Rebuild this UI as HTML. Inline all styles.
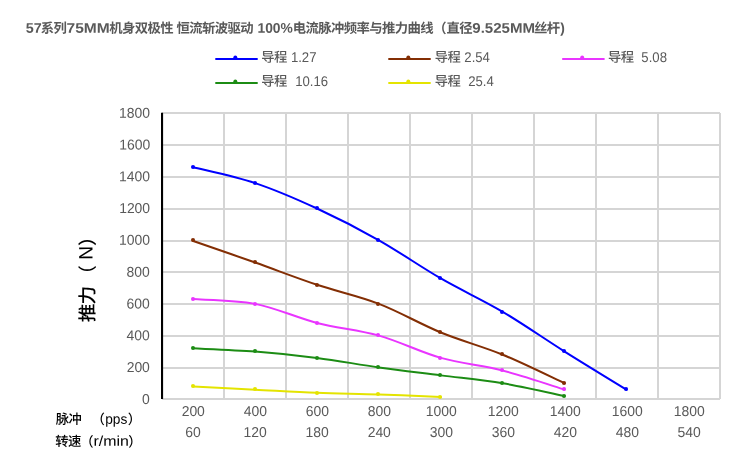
<!DOCTYPE html>
<html lang="zh-CN">
<head>
<meta charset="utf-8">
<title>57系列75MM机身双极性 推力曲线</title>
<style>
html,body{margin:0;padding:0;background:#fff;}
body{width:750px;height:468px;overflow:hidden;}
svg{display:block;}
text{font-family:"Liberation Sans","Noto Sans CJK SC",sans-serif;fill:#595959;white-space:pre;}
.c{font-weight:500;}
.tt{font-weight:bold;}
.yt,.xt{fill:#000;}
</style>
</head>
<body>
<svg width="750" height="468" viewBox="0 0 750 468" role="img" aria-label="推力曲线">
<rect width="750" height="468" fill="#fff"/>
<path d="M224,113 V399 M286,113 V399 M348,113 V399 M410,113 V399 M472,113 V399 M534,113 V399 M596,113 V399 M658,113 V399 M720,113 V399" stroke="#d5d5d5" stroke-width="2" fill="none"/>
<path d="M162,399.05 H720 M162,368.05 H720 M162,336.05 H720 M162,304.05 H720 M162,272.05 H720 M162,241.05 H720 M162,209.05 H720 M162,177.05 H720 M162,145.05 H720 M162,113.05 H720" stroke="#d5d5d5" stroke-width="1.9" fill="none"/>
<path d="M162.05,112.70 V399.00" stroke="#000" stroke-width="2.1" fill="none"/>
<path d="M193.25,167.22 C203.57,169.87 234.52,176.23 255.15,183.11 C275.78,190.00 296.42,199.00 317.05,208.53 C337.68,218.06 358.32,228.66 378.95,240.31 C399.58,251.96 420.22,266.52 440.85,278.44 C461.48,290.36 482.12,299.63 502.75,311.81 C523.38,323.99 544.02,338.55 564.65,351.53 C585.28,364.51 616.23,383.31 626.55,389.67" stroke="#0000ff" stroke-width="2" fill="none" stroke-linecap="round"/>
<circle cx="193" cy="167" r="2.05" fill="#0000ff"/>
<circle cx="255" cy="183" r="2.05" fill="#0000ff"/>
<circle cx="317" cy="208" r="2.05" fill="#0000ff"/>
<circle cx="378" cy="240" r="2.05" fill="#0000ff"/>
<circle cx="440" cy="278" r="2.05" fill="#0000ff"/>
<circle cx="502" cy="312" r="2.05" fill="#0000ff"/>
<circle cx="564" cy="351" r="2.05" fill="#0000ff"/>
<circle cx="626" cy="389" r="2.05" fill="#0000ff"/>
<path d="M193.25,241.01 C203.57,244.60 234.52,255.26 255.15,262.56 C275.78,269.86 296.42,277.92 317.05,284.80 C337.68,291.69 358.32,295.93 378.95,303.87 C399.58,311.81 420.22,324.00 440.85,332.47 C461.48,340.94 482.12,346.24 502.75,354.71 C523.38,363.18 554.33,378.54 564.65,383.31" stroke="#832e04" stroke-width="2" fill="none" stroke-linecap="round"/>
<circle cx="193" cy="240" r="2.05" fill="#832e04"/>
<circle cx="255" cy="262" r="2.05" fill="#832e04"/>
<circle cx="317" cy="285" r="2.05" fill="#832e04"/>
<circle cx="378" cy="304" r="2.05" fill="#832e04"/>
<circle cx="440" cy="332" r="2.05" fill="#832e04"/>
<circle cx="502" cy="354" r="2.05" fill="#832e04"/>
<circle cx="564" cy="383" r="2.05" fill="#832e04"/>
<path d="M193.25,299.10 C203.57,299.90 234.52,299.90 255.15,303.87 C275.78,307.84 296.42,317.63 317.05,322.93 C337.68,328.23 358.32,329.81 378.95,335.64 C399.58,341.47 420.22,352.06 440.85,357.89 C461.48,363.72 482.12,365.30 502.75,370.60 C523.38,375.90 554.33,386.49 564.65,389.67" stroke="#e935ff" stroke-width="2" fill="none" stroke-linecap="round"/>
<circle cx="193" cy="299" r="2.05" fill="#e935ff"/>
<circle cx="255" cy="304" r="2.05" fill="#e935ff"/>
<circle cx="317" cy="323" r="2.05" fill="#e935ff"/>
<circle cx="378" cy="335" r="2.05" fill="#e935ff"/>
<circle cx="440" cy="358" r="2.05" fill="#e935ff"/>
<circle cx="502" cy="370" r="2.05" fill="#e935ff"/>
<circle cx="564" cy="389" r="2.05" fill="#e935ff"/>
<path d="M193.25,348.36 C203.57,348.89 234.52,349.94 255.15,351.53 C275.78,353.12 296.42,355.24 317.05,357.89 C337.68,360.54 358.32,364.51 378.95,367.42 C399.58,370.33 420.22,372.72 440.85,375.37 C461.48,378.02 482.12,379.87 502.75,383.31 C523.38,386.75 554.33,393.90 564.65,396.02" stroke="#1c8c14" stroke-width="2" fill="none" stroke-linecap="round"/>
<circle cx="193" cy="348" r="2.05" fill="#1c8c14"/>
<circle cx="255" cy="351" r="2.05" fill="#1c8c14"/>
<circle cx="317" cy="358" r="2.05" fill="#1c8c14"/>
<circle cx="378" cy="367" r="2.05" fill="#1c8c14"/>
<circle cx="440" cy="375" r="2.05" fill="#1c8c14"/>
<circle cx="502" cy="383" r="2.05" fill="#1c8c14"/>
<circle cx="564" cy="396" r="2.05" fill="#1c8c14"/>
<path d="M193.25,386.49 C203.57,387.02 234.52,388.61 255.15,389.67 C275.78,390.73 296.42,392.05 317.05,392.84 C337.68,393.63 358.32,393.72 378.95,394.43 C399.58,395.14 430.53,396.66 440.85,397.11" stroke="#e4e400" stroke-width="2" fill="none" stroke-linecap="round"/>
<circle cx="193" cy="386" r="2.05" fill="#e4e400"/>
<circle cx="255" cy="389" r="2.05" fill="#e4e400"/>
<circle cx="317" cy="393" r="2.05" fill="#e4e400"/>
<circle cx="378" cy="394" r="2.05" fill="#e4e400"/>
<circle cx="440" cy="397" r="2.05" fill="#e4e400"/>
<path d="M215.3,58.9 h42.4" stroke="#0000ff" stroke-width="2"/>
<circle cx="235.3" cy="57.3" r="1.9" fill="#0000ff"/>
<path d="M388.3,58.9 h42.4" stroke="#832e04" stroke-width="2"/>
<circle cx="408.3" cy="57.3" r="1.9" fill="#832e04"/>
<path d="M562.2,58.9 h42.4" stroke="#e935ff" stroke-width="2"/>
<circle cx="582.2" cy="57.3" r="1.9" fill="#e935ff"/>
<path d="M215.3,82.9 h42.4" stroke="#1c8c14" stroke-width="2"/>
<circle cx="235.3" cy="81.3" r="1.9" fill="#1c8c14"/>
<path d="M388.3,82.9 h42.4" stroke="#e4e400" stroke-width="2"/>
<circle cx="408.3" cy="81.3" r="1.9" fill="#e4e400"/>
<text id="t1" class="tt" transform="translate(25.68,32.80) rotate(0.03) scale(1.0265,1)" style="font-size:14.00px">57</text>
<text id="t2" class="tt c" transform="translate(40.80,32.80) rotate(0.03)" style="font-size:13.33px;letter-spacing:-0.580px">系列</text>
<text id="t3" class="tt" transform="translate(66.59,32.80) rotate(0.03) scale(1.1104,1)" style="font-size:14.00px">75MM</text>
<text id="t4" class="tt c" transform="translate(109.35,32.80) rotate(0.03)" style="font-size:13.33px;letter-spacing:-0.580px">机身双极性</text>
<text id="t5" class="tt c" transform="translate(176.49,32.80) rotate(0.03)" style="font-size:13.33px;letter-spacing:-0.580px">恒流斩波驱动</text>
<text id="t6" class="tt" transform="translate(257.44,32.80) rotate(0.03) scale(0.9885,1)" style="font-size:14.00px">100%</text>
<text id="t7" class="tt c" transform="translate(292.67,32.80) rotate(0.03)" style="font-size:13.33px;letter-spacing:-0.580px">电流脉冲频率与推力曲线</text>
<text id="t8" class="tt c" transform="translate(433.22,33.05) rotate(0.03)" style="font-size:13.33px;letter-spacing:-0.580px">（</text>
<text id="t9" class="tt c" transform="translate(446.41,32.80) rotate(0.03)" style="font-size:13.33px;letter-spacing:-0.580px">直径</text>
<text id="t10" class="tt" transform="translate(472.27,32.80) rotate(0.03) scale(1.0765,1)" style="font-size:14.00px">9.525MM</text>
<text id="t11" class="tt c" transform="translate(533.89,32.80) rotate(0.03)" style="font-size:13.33px;letter-spacing:-0.580px">丝杆</text>
<text id="t12" class="tt" transform="translate(560.19,32.80) rotate(0.03) scale(0.9864,1)" style="font-size:14.00px">)</text>
<text id="lc0" class="lg c" transform="translate(261.17,61.65) rotate(0.03)" style="font-size:13.33px;letter-spacing:-0.580px">导程</text>
<text id="ln0" class="lg" transform="translate(290.88,62.00) rotate(0.03) scale(0.9350,1)" style="font-size:14.10px">1.27</text>
<text id="lc1" class="lg c" transform="translate(434.65,61.65) rotate(0.03)" style="font-size:13.33px;letter-spacing:-0.580px">导程</text>
<text id="ln1" class="lg" transform="translate(464.33,62.00) rotate(0.03) scale(0.9350,1)" style="font-size:14.10px">2.54</text>
<text id="lc2" class="lg c" transform="translate(607.89,61.65) rotate(0.03)" style="font-size:13.33px;letter-spacing:-0.580px">导程</text>
<text id="ln2" class="lg" transform="translate(641.36,62.00) rotate(0.03) scale(0.9350,1)" style="font-size:14.10px">5.08</text>
<text id="lc3" class="lg c" transform="translate(261.17,85.65) rotate(0.03)" style="font-size:13.33px;letter-spacing:-0.580px">导程</text>
<text id="ln3" class="lg" transform="translate(295.13,86.00) rotate(0.03) scale(0.9350,1)" style="font-size:14.10px">10.16</text>
<text id="lc4" class="lg c" transform="translate(434.65,85.65) rotate(0.03)" style="font-size:13.33px;letter-spacing:-0.580px">导程</text>
<text id="ln4" class="lg" transform="translate(468.17,86.00) rotate(0.03) scale(0.9350,1)" style="font-size:14.10px">25.4</text>
<text id="y0" class="ax" transform="translate(142.04,404.10) rotate(0.03) scale(0.9750,1)" style="font-size:14.30px">0</text>
<text id="y1" class="ax" transform="translate(126.63,371.97) rotate(0.03) scale(0.9750,1)" style="font-size:14.30px">200</text>
<text id="y2" class="ax" transform="translate(126.58,340.19) rotate(0.03) scale(0.9750,1)" style="font-size:14.30px">400</text>
<text id="y3" class="ax" transform="translate(126.55,308.41) rotate(0.03) scale(0.9750,1)" style="font-size:14.30px">600</text>
<text id="y4" class="ax" transform="translate(126.58,276.63) rotate(0.03) scale(0.9750,1)" style="font-size:14.30px">800</text>
<text id="y5" class="ax" transform="translate(119.09,244.85) rotate(0.03) scale(0.9750,1)" style="font-size:14.30px">1000</text>
<text id="y6" class="ax" transform="translate(119.13,213.07) rotate(0.03) scale(0.9750,1)" style="font-size:14.30px">1200</text>
<text id="y7" class="ax" transform="translate(119.09,181.29) rotate(0.03) scale(0.9750,1)" style="font-size:14.30px">1400</text>
<text id="y8" class="ax" transform="translate(119.20,149.51) rotate(0.03) scale(0.9750,1)" style="font-size:14.30px">1600</text>
<text id="y9" class="ax" transform="translate(119.09,117.73) rotate(0.03) scale(0.9750,1)" style="font-size:14.30px">1800</text>
<text id="x0_0" class="ax" transform="translate(181.63,416.00) rotate(0.03) scale(0.9750,1)" style="font-size:14.30px">200</text>
<text id="x1_0" class="ax" transform="translate(185.36,437.10) rotate(0.03) scale(0.9750,1)" style="font-size:14.30px">60</text>
<text id="x0_1" class="ax" transform="translate(243.68,416.00) rotate(0.03) scale(0.9750,1)" style="font-size:14.30px">400</text>
<text id="x1_1" class="ax" transform="translate(243.48,437.10) rotate(0.03) scale(0.9750,1)" style="font-size:14.30px">120</text>
<text id="x0_2" class="ax" transform="translate(305.72,416.00) rotate(0.03) scale(0.9750,1)" style="font-size:14.30px">600</text>
<text id="x1_2" class="ax" transform="translate(305.48,437.10) rotate(0.03) scale(0.9750,1)" style="font-size:14.30px">180</text>
<text id="x0_3" class="ax" transform="translate(367.67,416.00) rotate(0.03) scale(0.9750,1)" style="font-size:14.30px">800</text>
<text id="x1_3" class="ax" transform="translate(367.63,437.10) rotate(0.03) scale(0.9750,1)" style="font-size:14.30px">240</text>
<text id="x0_4" class="ax" transform="translate(425.67,416.00) rotate(0.03) scale(0.9750,1)" style="font-size:14.30px">1000</text>
<text id="x1_4" class="ax" transform="translate(429.68,437.10) rotate(0.03) scale(0.9750,1)" style="font-size:14.30px">300</text>
<text id="x0_5" class="ax" transform="translate(487.67,416.00) rotate(0.03) scale(0.9750,1)" style="font-size:14.30px">1200</text>
<text id="x1_5" class="ax" transform="translate(491.68,437.10) rotate(0.03) scale(0.9750,1)" style="font-size:14.30px">360</text>
<text id="x0_6" class="ax" transform="translate(549.67,416.00) rotate(0.03) scale(0.9750,1)" style="font-size:14.30px">1400</text>
<text id="x1_6" class="ax" transform="translate(553.68,437.10) rotate(0.03) scale(0.9750,1)" style="font-size:14.30px">420</text>
<text id="x0_7" class="ax" transform="translate(611.67,416.00) rotate(0.03) scale(0.9750,1)" style="font-size:14.30px">1600</text>
<text id="x1_7" class="ax" transform="translate(615.68,437.10) rotate(0.03) scale(0.9750,1)" style="font-size:14.30px">480</text>
<text id="x0_8" class="ax" transform="translate(673.67,416.00) rotate(0.03) scale(0.9750,1)" style="font-size:14.30px">1800</text>
<text id="x1_8" class="ax" transform="translate(677.61,437.10) rotate(0.03) scale(0.9750,1)" style="font-size:14.30px">540</text>
<text id="xa1" class="xt c" transform="translate(55.70,423.65) rotate(0.03)" style="font-size:13.33px;letter-spacing:-0.580px">脉冲</text>
<text id="xa2" class="xt c" transform="translate(91.53,424.05) rotate(0.03)" style="font-size:13.33px;letter-spacing:-0.580px">（</text>
<text id="xa3" class="xt" transform="translate(105.15,423.70) rotate(0.03) scale(0.9802,1)" style="font-size:14.00px">pps</text>
<text id="xa4" class="xt c" transform="translate(127.69,424.05) rotate(0.03)" style="font-size:13.33px;letter-spacing:-0.580px">）</text>
<text id="xb1" class="xt c" transform="translate(55.37,446.00) rotate(0.03)" style="font-size:13.33px;letter-spacing:-0.580px">转速</text>
<text id="xb2" class="xt c" transform="translate(80.32,446.55) rotate(0.03)" style="font-size:13.33px;letter-spacing:-0.580px">（</text>
<text id="xb3" class="xt" transform="translate(93.51,445.70) rotate(0.03) scale(1.1373,1)" style="font-size:14.00px">r/min</text>
<text id="xb4" class="xt c" transform="translate(128.24,446.55) rotate(0.03)" style="font-size:13.33px;letter-spacing:-0.580px">）</text>
<text id="ya1" class="yt c" transform="translate(93.92,322.30) rotate(-90.03)" style="font-size:18.67px;letter-spacing:-0.812px">推力</text>
<text id="ya2" class="yt c" transform="translate(94.17,283.69) rotate(-90.03)" style="font-size:18.67px;letter-spacing:-0.812px">（</text>
<text id="ya3" class="yt" transform="translate(92.60,259.77) rotate(-90.03) scale(0.9849,1)" style="font-size:19.40px">N</text>
<text id="ya4" class="yt c" transform="translate(94.17,245.91) rotate(-90.03)" style="font-size:18.67px;letter-spacing:-0.812px">）</text>
</svg>
</body>
</html>
